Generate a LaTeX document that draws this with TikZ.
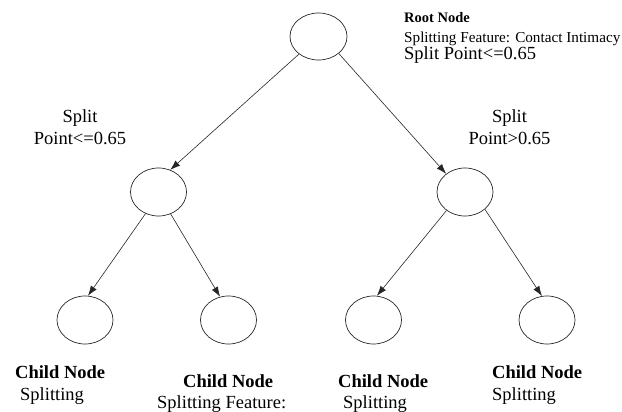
\documentclass[tikz,border=0pt]{standalone}
\usepackage{fontspec}
\setmainfont{Liberation Serif}
\usetikzlibrary{arrows.meta,shapes.geometric}
\begin{document}
\begin{tikzpicture}[x=1pt,y=-1pt,
  tn/.style={draw=black!85, ellipse, minimum width=56pt, minimum height=48pt, inner sep=0pt, line width=0.7pt},
  rootn/.style={draw=black!85, ellipse, minimum width=57pt, minimum height=47pt, inner sep=0pt, line width=0.7pt},
  edge/.style={draw=black!85, -{Latex[length=10pt,width=7pt]}, line width=0.6pt},
  lbl/.style={anchor=base west, inner sep=0pt, font=\fontsize{18.5}{20}\selectfont},
  clbl/.style={anchor=base, inner sep=0pt, font=\fontsize{18.5}{20}\selectfont},
  blbl/.style={anchor=base west, inner sep=0pt, font=\fontsize{18.5}{20}\selectfont\bfseries},
  sblbl/.style={anchor=base west, inner sep=0pt, font=\fontsize{14.5}{16}\selectfont\bfseries},
  slbl/.style={anchor=base west, inner sep=0pt, font=\fontsize{15.2}{17}\selectfont}]
\useasboundingbox (0,0) rectangle (622,412);
% nodes
\node[rootn] (root) at (318.5,36.5) {};
\node[tn] (lm) at (158.5,192) {};
\node[tn] (rm) at (465,192) {};
\node[tn] (b1) at (85,320) {};
\node[tn] (b2) at (228.5,320) {};
\node[tn] (b3) at (373.5,320) {};
\node[tn] (b4) at (547,320) {};
% edges
\draw[edge] (root.222) -- (lm.62);
\draw[edge] (root.320) -- (rm.136);
\draw[edge] (lm.239) -- (b1.83);
\draw[edge] (lm.299) -- (b2.110);
\draw[edge] (rm.225) -- (b3.82);
\draw[edge] (rm.319) -- (b4.102);
% root label
\node[sblbl] (rt1) at (404,22.5) {Root Node};
\node[slbl] (rt2) at (404,42.5) {Splitting Feature: Contact Intimacy};
\node[lbl] (rt3) at (404,60) {Split Point<=0.65};
% split labels
\node[clbl] (ls1) at (80,123) {Split};
\node[clbl] (ls2) at (80,145) {Point<=0.65};
\node[clbl] (rs1) at (509.5,123) {Split};
\node[clbl] (rs2) at (509.5,145) {Point>0.65};
% child labels
\node[blbl] (c1a) at (15,378) {Child Node};
\node[lbl] (c1b) at (20,400) {Splitting};
\node[blbl] (c2a) at (183,387) {Child Node};
\node[lbl] (c2b) at (157,408) {Splitting Feature:};
\node[blbl] (c3a) at (338,387) {Child Node};
\node[lbl] (c3b) at (343,408) {Splitting};
\node[blbl] (c4a) at (492,378) {Child Node};
\node[lbl] (c4b) at (492,400) {Splitting};
\end{tikzpicture}
\end{document}
